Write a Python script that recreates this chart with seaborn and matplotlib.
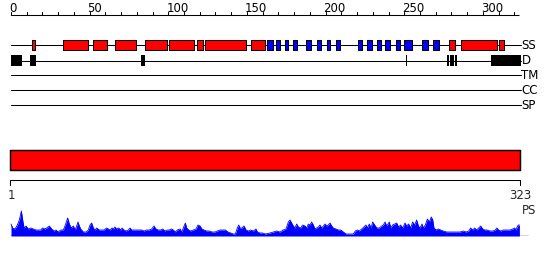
import matplotlib
matplotlib.use("Agg")
import matplotlib.pyplot as plt
import seaborn as sns
import pandas as pd

# ---------------- data ----------------
SEQ_LEN = 323
ruler_major = [0, 50, 100, 150, 200, 250, 300]
ruler_minor = list(range(0, 321, 10))
track_names = ["SS", "D", "TM", "CC", "SP"]

# secondary structure (start, end) in residue coordinates
ss_helix = [(13.5, 15.4), (33.2, 48.8), (52.3, 61.2), (66.3, 79.7), (85.4, 99.4),
            (100.6, 116.1), (118.4, 121.9), (123.5, 149.2), (152.8, 161.3),
            (278.3, 282.5), (286.3, 308.8), (310.4, 313.6)]
ss_strand = [(162.9, 166.4), (168.7, 171.0), (174.0, 176.1), (179.5, 181.8),
             (187.5, 190.9), (194.3, 196.9), (200.7, 202.8), (206.6, 209.2),
             (220.6, 223.1), (226.5, 229.3), (232.9, 235.2), (238.0, 241.0),
             (244.8, 247.3), (249.8, 254.9), (261.5, 265.1), (268.5, 272.1)]
# disorder
disorder = [(0.0, 6.9), (12.0, 15.7), (82.6, 85.2), (251.0, 252.0),
            (277.2, 278.6), (279.3, 281.8), (282.4, 283.8), (305.0, 324.0)]
domain_start_label = "1"
domain_end_label = "323"

# PS profile
ps_pos = [0.0, 1.06, 2.54, 4.03, 5.3, 6.57, 7.42, 8.26, 9.54, 11.02, 12.5, 14.2, 15.89,
          17.38, 18.86, 20.13, 21.61, 22.67, 24.37, 25.85, 27.34, 28.61, 30.09, 31.57,
          33.27, 34.54, 36.02, 37.08, 38.36, 39.63, 40.9, 41.75, 42.59, 43.44, 44.29,
          45.98, 47.68, 49.16, 50.22, 51.28, 52.34, 53.4, 54.46, 56.16, 57.64, 59.12,
          60.82, 61.88, 62.94, 64.21, 65.06, 66.12, 67.18, 68.45, 69.72, 70.57, 71.84,
          73.11, 74.59, 75.65, 76.71, 78.19, 79.89, 81.59, 83.07, 84.55, 86.25, 87.94,
          89.43, 90.91, 92.18, 93.66, 95.15, 96.42, 97.9, 99.38, 100.66, 102.14, 103.2,
          104.47, 105.74, 107.44, 108.5, 109.56, 110.83, 111.68, 112.95, 114.22, 115.91,
          117.61, 118.88, 120.15, 121.42, 122.69, 124.39, 126.09, 127.78, 129.69, 131.17,
          132.87, 134.56, 136.26, 137.96, 139.65, 141.35, 142.62, 143.89, 144.74, 145.58,
          146.85, 148.13, 149.4, 150.88, 152.36, 154.06, 155.75, 156.6, 158.3, 159.99,
          161.69, 164.65, 166.77, 168.89, 171.0, 173.1, 174.8, 176.3, 177.4, 178.4, 179.5,
          180.5, 181.6, 182.7, 184.1, 185.4, 186.9, 188.0, 189.0, 190.1, 191.1, 192.2,
          193.3, 194.3, 195.4, 196.4, 197.5, 198.6, 199.6, 200.7, 201.7, 202.8, 203.9,
          204.9, 206.6, 208.1, 209.6, 211.3, 213.0, 214.4, 216.0, 217.6, 218.9, 220.2,
          221.4, 222.9, 224.4, 225.7, 226.5, 227.8, 228.9, 229.9, 231.2, 232.5, 234.2,
          235.6, 236.7, 237.8, 238.8, 240.5, 241.4, 242.6, 243.9, 245.2, 246.4, 247.7,
          249.0, 250.5, 251.5, 252.8, 254.1, 255.3, 256.6, 257.9, 259.0, 260.0, 261.3,
          262.1, 263.4, 264.7, 265.9, 267.2, 268.1, 268.9, 270.2, 271.7, 273.1, 274.8,
          277.0, 279.1, 281.2, 283.3, 285.4, 287.6, 289.3, 291.0, 292.2, 293.5, 294.8,
          296.0, 297.3, 298.6, 299.9, 301.3, 302.8, 304.5, 306.2, 307.9, 308.8, 310.0,
          311.3, 313.0, 314.3, 315.5, 317.2, 318.9, 320.2, 321.0, 321.8, 322.5, 323.2]
ps_val = [12, 8, 7, 11, 16, 25, 16, 8, 10, 7, 8, 7, 6,
          6, 6, 8, 7, 8, 10, 7, 5, 6, 4, 6,
          6, 11, 18, 12, 8, 10, 6, 10, 14, 10, 7,
          4, 4, 6, 11, 13, 8, 6, 8, 6, 6, 6,
          8, 7, 6, 8, 7, 9, 7, 8, 6, 8, 6,
          5, 6, 8, 6, 6, 6, 6, 6, 5, 6, 6,
          7, 10, 7, 6, 6, 7, 5, 6, 6, 7, 6,
          4, 6, 7, 4, 8, 13, 8, 6, 5, 6,
          7, 11, 10, 7, 6, 5, 5, 4, 4, 5,
          6, 6, 6, 4, 3, 2, 2, 8, 11, 8,
          8, 10, 6, 5, 6, 5, 7, 4, 3, 3,
          2, 3, 4, 5, 4, 6, 7, 14, 16, 13, 10,
          8, 12, 9, 8, 11, 10, 8, 12, 11, 14, 11,
          7, 8, 9, 11, 8, 10, 12, 10, 11, 13, 10,
          8, 7, 6, 6, 4, 2, 2, 2, 2, 5, 6,
          5, 7, 9, 11, 8, 12, 8, 14, 11, 8, 8,
          10, 11, 14, 10, 14, 8, 11, 12, 13, 9, 11,
          8, 13, 10, 12, 8, 14, 11, 16, 10, 8, 12,
          8, 11, 17, 14, 19, 16, 8, 6, 7, 6, 5,
          4, 4, 4, 4, 4, 5, 4, 5, 8, 6, 8,
          6, 8, 10, 7, 6, 6, 5, 5, 6, 8, 6,
          5, 6, 6, 6, 6, 7, 8, 6, 9, 11, 11]

# ---------------- layout ----------------
W, H = 550, 260
PX = 1.573           # pixels per residue
X0 = 11.0            # pixel of residue 0
xlim = (-X0 / PX, (W - X0) / PX)

sns.set_theme(style="white")
plt.rcParams["font.family"] = ["DejaVu Sans"]

fig = plt.figure(figsize=(W / 100, H / 100), dpi=100)
ax = fig.add_axes([0, 0, 1, 1])
ax.set_xlim(*xlim)
ax.set_ylim(H, 0)
ax.axis("off")

FS = 8.5
LW = 0.75

# ruler
ruler_y = 15.0
ax.plot([0, SEQ_LEN], [ruler_y, ruler_y], color="black", lw=LW, solid_capstyle="butt")
for t in ruler_minor:
    ax.plot([t, t], [ruler_y, ruler_y - 3], color="black", lw=LW)
for t in ruler_major:
    ax.text(t - 1.3, ruler_y - 3.5, str(t), ha="left", va="baseline", fontsize=FS, color="black")

# tracks
track_y = {"SS": 45.2, "D": 60.5, "TM": 75.3, "CC": 90.3, "SP": 105.3}
line_end = SEQ_LEN + 1.2
for name in track_names:
    y = track_y[name]
    ax.plot([0, line_end], [y, y], color="black", lw=LW, zorder=1)
    ax.text(line_end + 0.3, y, name, ha="left", va="center", fontsize=FS, color="black")

def boxes(segs, y, h, fc):
    ax.broken_barh([(s, e - s) for s, e in segs], (y - h / 2, h),
                   facecolors=fc, edgecolors="black", linewidth=LW, zorder=3)

boxes(ss_helix, track_y["SS"], 10.0, "#FF0000")
boxes(ss_strand, track_y["SS"], 10.0, "#0000FF")
ax.broken_barh([(s, e - s) for s, e in disorder], (track_y["D"] - 5.5, 11.0),
               facecolors="black", edgecolors="none", zorder=3)

# domain bar
ax.broken_barh([(-0.5, SEQ_LEN + 1.0)], (150.0, 20.0), facecolors="#FF0000",
               edgecolors="black", linewidth=LW * 1.4, zorder=3)

# bracket
by = 180.0
ax.plot([-0.5, -0.5, SEQ_LEN + 0.5, SEQ_LEN + 0.5], [by + 5, by, by, by + 5],
        color="black", lw=LW)
ax.text(0, 195.5, domain_start_label, ha="center", va="center", fontsize=FS)
ax.text(SEQ_LEN + 0.5, 195.5, domain_end_label, ha="center", va="center", fontsize=FS)
ax.text(line_end + 0.3, 211.0, "PS", ha="left", va="center", fontsize=FS)

# PS profile
base_px = 236.0
top_px = 206.0
ax_ps = fig.add_axes([0, (H - base_px) / H, 1, (base_px - top_px) / H])
ax_ps.set_xlim(*xlim)
ax_ps.set_ylim(0, base_px - top_px)
ax_ps.axis("off")
ax_ps.patch.set_alpha(0)
df = pd.DataFrame({"pos": ps_pos, "val": ps_val})
ax_ps.fill_between(df["pos"], 0, df["val"], color="#0000FF", lw=0)
sns.lineplot(data=df, x="pos", y="val", ax=ax_ps, color="#0000FF", lw=0.6)
ax_ps.plot([-0.5, 328.5], [0.3, 0.3], color="#0000FF", lw=1.0)

fig.savefig("out.png", dpi=100)
